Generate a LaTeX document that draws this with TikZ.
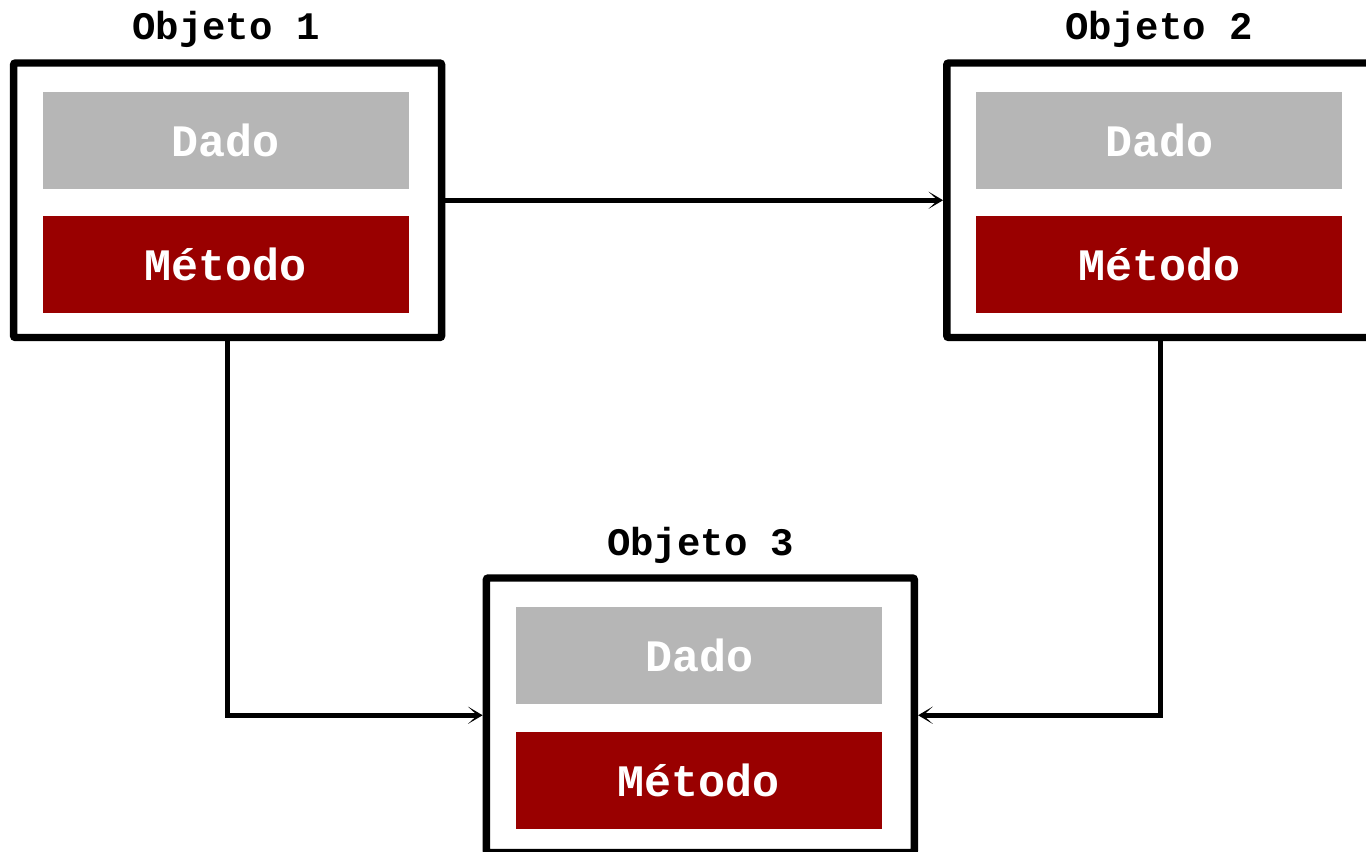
\documentclass[tikz,border=0pt]{standalone}
\usepackage{fontspec}
\setmainfont{Liberation Mono}
\usetikzlibrary{arrows.meta}
\definecolor{dadogray}{HTML}{B6B6B6}
\definecolor{metred}{HTML}{990000}
\tikzset{
  objframe/.style={draw=black, line width=5.6pt, rounded corners=1.5pt, fill=white,
    minimum width=428*0.75pt, minimum height=274.5*0.75pt, inner sep=0pt},
  dadobox/.style={fill=dadogray, text=white, minimum width=366*0.75pt, minimum height=96.7*0.75pt,
    inner sep=0pt, font=\fontsize{33.75pt}{36pt}\selectfont\bfseries, text height=23.5pt, text depth=0pt},
  metbox/.style={dadobox, fill=metred},
  objtitle/.style={anchor=base, inner sep=0pt, font=\fontsize{29.25pt}{32pt}\selectfont\bfseries},
  conn/.style={line width=3.8pt, line join=miter, -{Stealth[length=11pt,width=13pt,inset=7pt]}}
}
\begin{document}
\begin{tikzpicture}[x=0.75pt,y=-0.75pt]
\useasboundingbox (0,0) rectangle (1366,852);
\begin{scope}
\clip (0,0) rectangle (1366,852);
\node[objframe] (o1) at (227.6,200.25) {};
\node[objframe] (o2) at (1160.8,200.25) {};
\node[objframe] (o3) at (700.35,715.25) {};
\node[dadobox] (d1) at (226,140.35) {Dado};
\node[metbox] (m1) at (226,264.35) {Método};
\node[dadobox] (d2) at (1159,140.35) {Dado};
\node[metbox] (m2) at (1159,264.35) {Método};
\node[dadobox] (d3) at (699,655.35) {Dado};
\node[metbox] (m3) at (699,780.35) {Método};
\node[objtitle] (t1) at (226,40) {Objeto 1};
\node[objtitle] (t2) at (1159,40) {Objeto 2};
\node[objtitle] (t3) at (700.8,555) {Objeto 3};
\draw[conn] (o1.east) -- (o2.west);
\draw[conn] (o1.south) |- (o3.west);
\draw[conn] (o2.south) |- (o3.east);
\end{scope}
\end{tikzpicture}
\end{document}
